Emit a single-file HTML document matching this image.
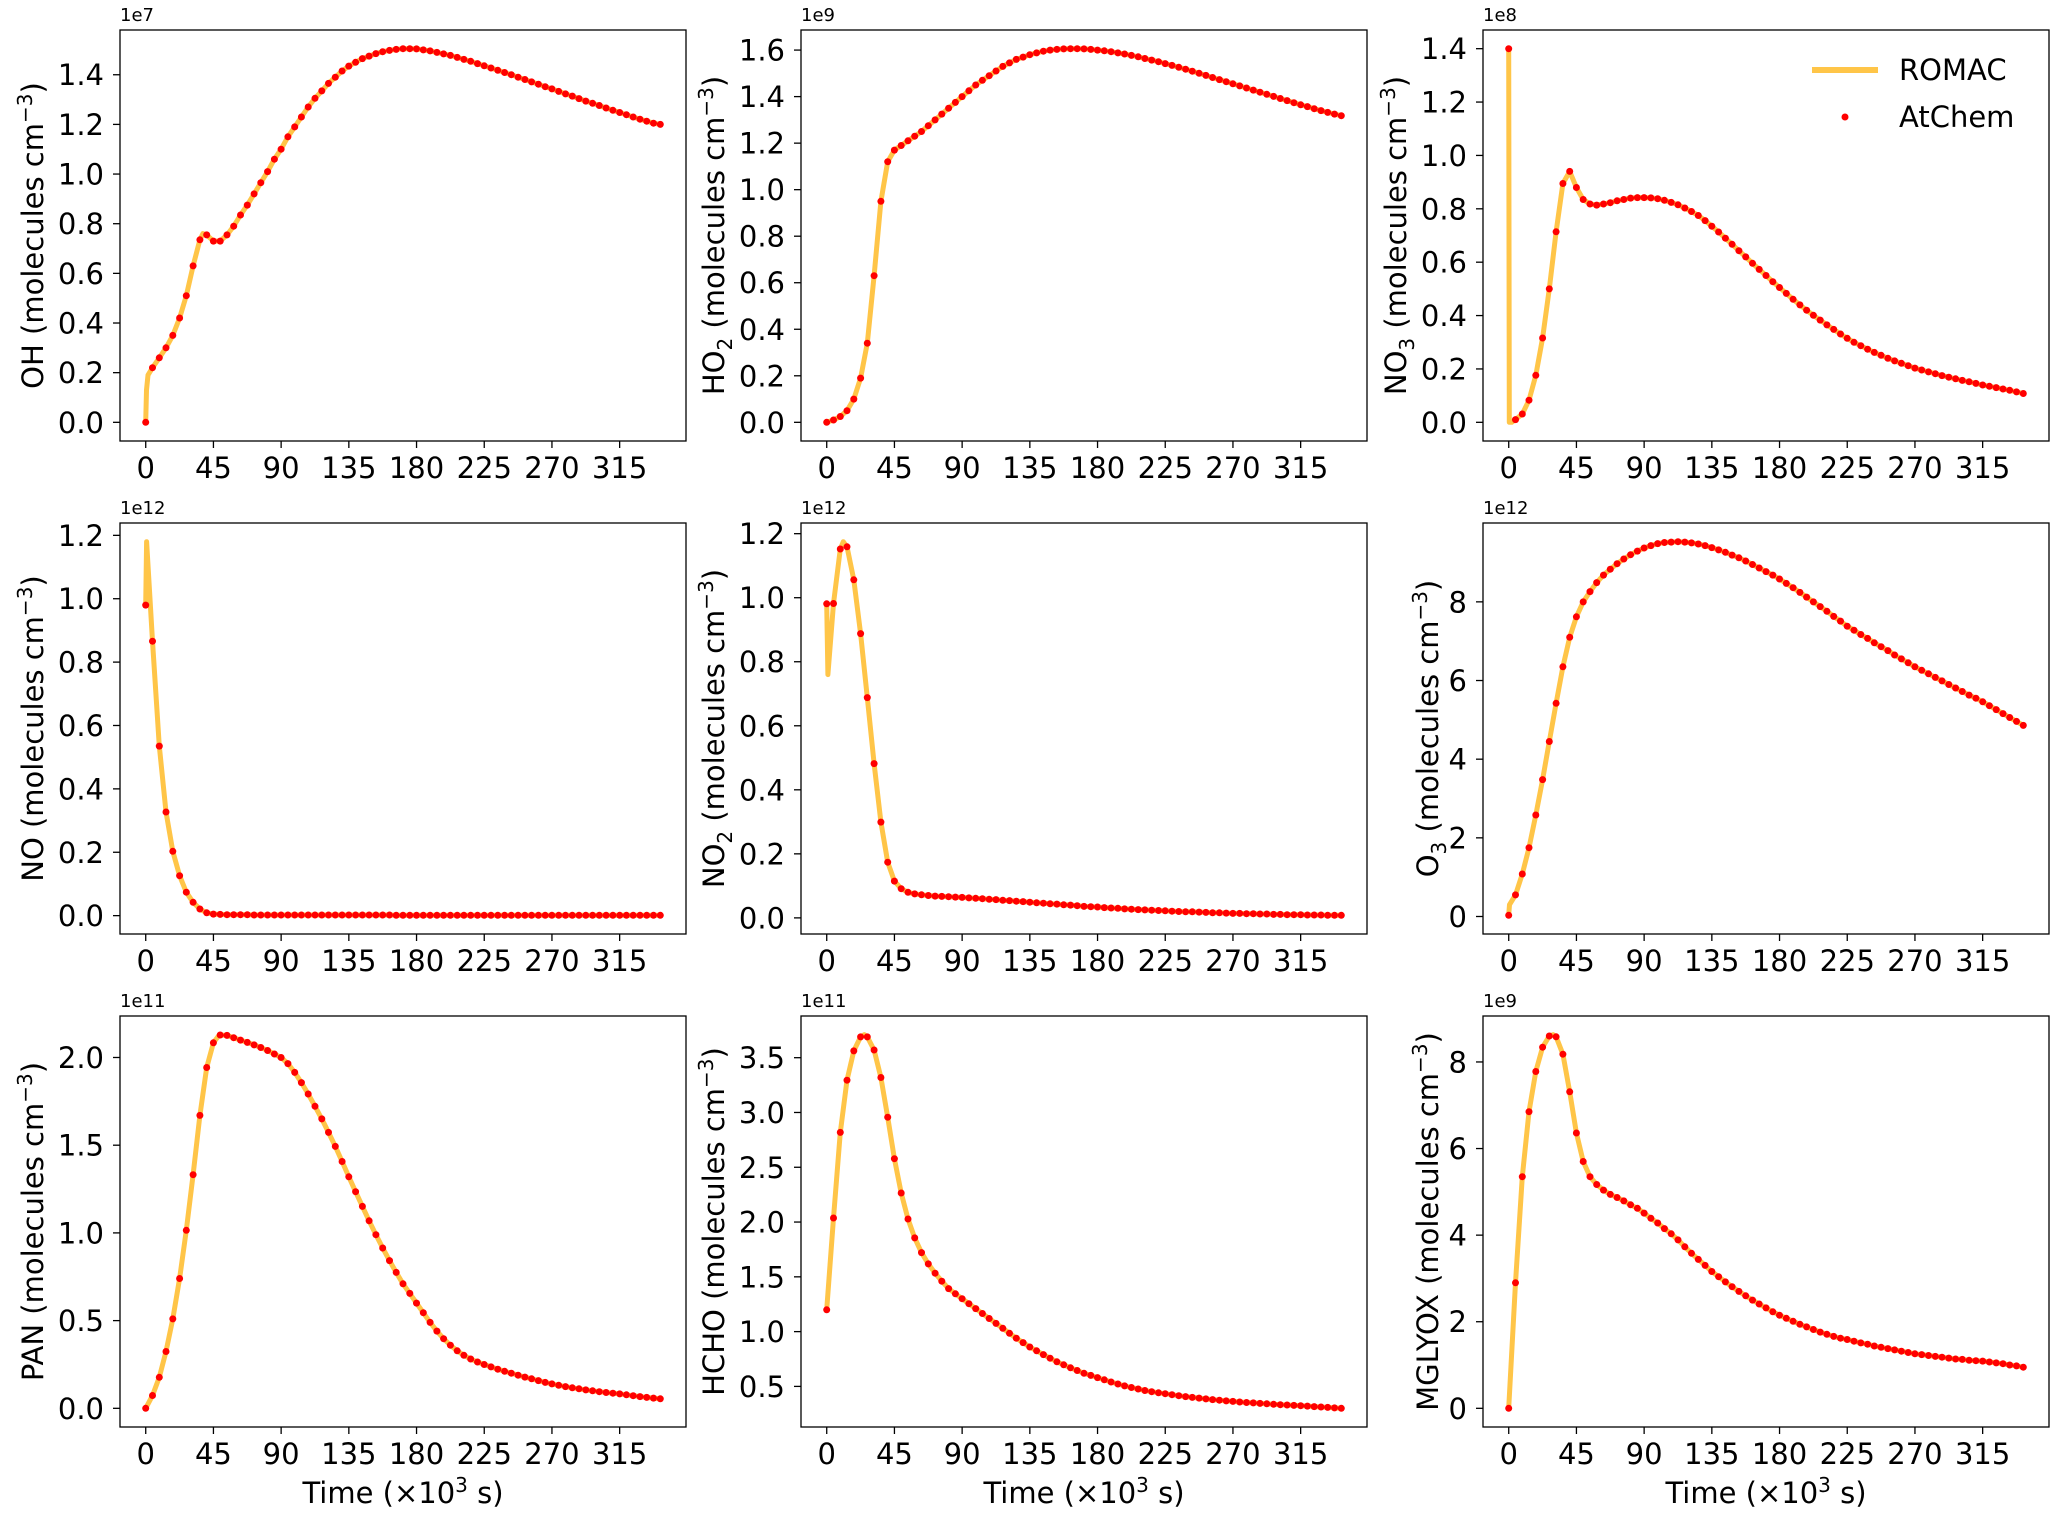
<!DOCTYPE html>
<html><head><meta charset="utf-8"><style>
html,body{margin:0;padding:0;background:#fff;}
svg{display:block;font-family:"DejaVu Sans","Liberation Sans",sans-serif;}
</style></head><body>
<svg id="fig" xmlns="http://www.w3.org/2000/svg" width="2067" height="1519" viewBox="0 0 2067 1519"></svg>
<script>
const timeStep = 4.5;
const pointCount = 77;
const ohValues = [0,0.22,0.26,0.30,0.35,0.42,0.51,0.63,0.735,0.755,0.73,0.73,0.755,0.79,0.835,0.875,0.92,0.965,1.01,1.06,1.10,1.15,1.19,1.23,1.27,1.305,1.335,1.365,1.39,1.415,1.435,1.45,1.465,1.475,1.485,1.493,1.498,1.502,1.505,1.505,1.504,1.50,1.496,1.49,1.484,1.478,1.47,1.462,1.454,1.445,1.436,1.427,1.418,1.409,1.40,1.39,1.381,1.371,1.362,1.352,1.343,1.333,1.323,1.314,1.304,1.294,1.285,1.276,1.266,1.257,1.248,1.239,1.23,1.221,1.213,1.205,1.20];
const ho2Values = [0,0.01,0.025,0.05,0.1,0.19,0.34,0.63,0.95,1.12,1.17,1.19,1.21,1.23,1.25,1.275,1.30,1.325,1.35,1.375,1.40,1.425,1.45,1.47,1.49,1.51,1.53,1.545,1.56,1.57,1.58,1.588,1.595,1.60,1.603,1.605,1.606,1.606,1.605,1.603,1.60,1.597,1.593,1.588,1.583,1.577,1.571,1.564,1.557,1.55,1.542,1.534,1.526,1.518,1.509,1.50,1.491,1.482,1.473,1.464,1.455,1.446,1.437,1.428,1.419,1.41,1.401,1.392,1.383,1.374,1.365,1.357,1.348,1.34,1.332,1.325,1.318];
const no3Values = [1.40,0.01,0.031,0.083,0.176,0.316,0.50,0.714,0.895,0.94,0.88,0.835,0.818,0.814,0.818,0.823,0.83,0.835,0.84,0.842,0.842,0.841,0.838,0.832,0.824,0.815,0.803,0.79,0.775,0.756,0.735,0.713,0.69,0.667,0.643,0.62,0.596,0.573,0.55,0.527,0.505,0.483,0.461,0.44,0.42,0.401,0.383,0.365,0.348,0.331,0.315,0.3,0.287,0.274,0.262,0.251,0.24,0.23,0.221,0.212,0.203,0.196,0.189,0.182,0.175,0.169,0.163,0.157,0.152,0.146,0.14,0.135,0.13,0.125,0.12,0.114,0.108];
const noValues = [0.98,0.866,0.535,0.327,0.203,0.126,0.074,0.042,0.021,0.009,0.005,0.004,0.003,0.003,0.003,0.003,0.002,0.002,0.002,0.002,0.002,0.002,0.002,0.002,0.002,0.002,0.002,0.002,0.002,0.002,0.002,0.002,0.002,0.002,0.002,0.002,0.002,0.001,0.001,0.001,0.001,0.001,0.001,0.001,0.001,0.001,0.001,0.001,0.001,0.001,0.001,0.001,0.001,0.001,0.001,0.001,0.001,0.001,0.001,0.001,0.001,0.001,0.001,0.001,0.001,0.001,0.001,0.001,0.001,0.001,0.001,0.001,0.001,0.001,0.001,0.001,0.001];
const no2Values = [0.981,0.982,1.152,1.159,1.056,0.888,0.688,0.482,0.299,0.174,0.115,0.091,0.08,0.075,0.072,0.07,0.068,0.067,0.066,0.065,0.064,0.0625,0.061,0.06,0.058,0.057,0.055,0.054,0.052,0.051,0.049,0.047,0.046,0.044,0.043,0.041,0.04,0.038,0.036,0.035,0.034,0.032,0.031,0.03,0.028,0.027,0.026,0.025,0.024,0.023,0.022,0.021,0.02,0.019,0.019,0.018,0.017,0.016,0.016,0.015,0.014,0.014,0.013,0.013,0.012,0.012,0.011,0.011,0.01,0.01,0.01,0.009,0.009,0.009,0.008,0.008,0.008];
const o3Values = [0.03,0.55,1.08,1.75,2.58,3.48,4.45,5.42,6.35,7.1,7.62,8.0,8.26,8.49,8.68,8.83,8.97,9.09,9.2,9.29,9.37,9.43,9.48,9.51,9.52,9.53,9.52,9.5,9.47,9.43,9.38,9.32,9.26,9.19,9.12,9.04,8.95,8.86,8.77,8.68,8.58,8.47,8.36,8.24,8.12,8.0,7.88,7.76,7.63,7.51,7.38,7.28,7.17,7.07,6.96,6.86,6.76,6.65,6.55,6.45,6.35,6.26,6.17,6.08,5.99,5.9,5.81,5.72,5.63,5.55,5.46,5.36,5.26,5.16,5.06,4.96,4.86];
const panValues = [0,0.073,0.177,0.324,0.51,0.74,1.015,1.332,1.67,1.943,2.084,2.128,2.126,2.113,2.099,2.086,2.072,2.057,2.04,2.02,2.0,1.965,1.915,1.857,1.792,1.722,1.65,1.573,1.493,1.407,1.32,1.235,1.151,1.069,0.99,0.914,0.842,0.775,0.71,0.655,0.6,0.545,0.49,0.44,0.397,0.36,0.328,0.302,0.281,0.264,0.25,0.236,0.223,0.211,0.2,0.189,0.178,0.168,0.158,0.148,0.139,0.131,0.124,0.117,0.111,0.105,0.1,0.095,0.09,0.086,0.082,0.077,0.072,0.067,0.062,0.058,0.054];
const hchoValues = [1.199,2.037,2.818,3.295,3.562,3.69,3.69,3.57,3.319,2.957,2.578,2.265,2.028,1.855,1.721,1.618,1.533,1.46,1.393,1.345,1.30,1.255,1.21,1.165,1.12,1.075,1.03,0.985,0.94,0.9,0.86,0.825,0.79,0.757,0.725,0.697,0.67,0.645,0.62,0.6,0.58,0.56,0.54,0.522,0.505,0.49,0.476,0.463,0.452,0.442,0.433,0.424,0.415,0.407,0.4,0.393,0.386,0.38,0.374,0.368,0.363,0.358,0.353,0.349,0.345,0.341,0.337,0.333,0.33,0.327,0.324,0.32,0.316,0.312,0.308,0.304,0.30];
const mglyoxValues = [0,2.9,5.35,6.85,7.78,8.34,8.6,8.58,8.18,7.31,6.36,5.7,5.35,5.17,5.04,4.94,4.87,4.79,4.7,4.62,4.51,4.39,4.28,4.15,4.03,3.89,3.73,3.58,3.44,3.3,3.16,3.04,2.92,2.81,2.7,2.6,2.5,2.41,2.32,2.23,2.15,2.08,2.01,1.94,1.88,1.82,1.76,1.71,1.66,1.62,1.59,1.55,1.51,1.48,1.44,1.41,1.38,1.35,1.32,1.29,1.26,1.24,1.22,1.2,1.18,1.16,1.14,1.13,1.11,1.1,1.09,1.07,1.05,1.03,1.0,0.98,0.95];
const ohLineExtraT = [0.5,1.5,38]; const ohLineExtraV = [0.13,0.19,0.76];
const no3LineExtraT = [0.4,2]; const no3LineExtraV = [0.0,0.0];
const noLineExtraT = [0.6]; const noLineExtraV = [1.18];
const no2LineExtraT = [0.8,11]; const no2LineExtraV = [0.76,1.175];
const o3LineExtraT = [0.5]; const o3LineExtraV = [0.3];
const hchoLineExtraT = [25]; const hchoLineExtraV = [3.71];
const mglyoxLineExtraT = [29.5]; const mglyoxLineExtraV = [8.63];
const panLineExtraT = [49]; const panLineExtraV = [2.13];
const xTicks = [0,45,90,135,180,225,270,315];
const ohTicks = [0,0.2,0.4,0.6,0.8,1.0,1.2,1.4];
const ho2Ticks = [0,0.2,0.4,0.6,0.8,1.0,1.2,1.4,1.6];
const no3Ticks = [0,0.2,0.4,0.6,0.8,1.0,1.2,1.4];
const noTicks = [0,0.2,0.4,0.6,0.8,1.0,1.2];
const no2Ticks = [0,0.2,0.4,0.6,0.8,1.0,1.2];
const o3Ticks = [0,2,4,6,8];
const panTicks = [0,0.5,1.0,1.5,2.0];
const hchoTicks = [0.5,1.0,1.5,2.0,2.5,3.0,3.5];
const mglyoxTicks = [0,2,4,6,8];

const NS = "http://www.w3.org/2000/svg";
const svg = document.getElementById('fig');
function mk(tag, attrs, parent){const e=document.createElementNS(NS,tag);for(const k in attrs)e.setAttribute(k,attrs[k]);(parent||svg).appendChild(e);return e;}

const panels = [
 {key:'oh',name:'OH',sub:'',vals:ohValues,ticks:ohTicks,dec:1,exp:'1e7',et:ohLineExtraT,ev:ohLineExtraV,col:0,row:0},
 {key:'ho2',name:'HO',sub:'2',vals:ho2Values,ticks:ho2Ticks,dec:1,exp:'1e9',et:[],ev:[],col:1,row:0},
 {key:'no3',name:'NO',sub:'3',vals:no3Values,ticks:no3Ticks,dec:1,exp:'1e8',et:no3LineExtraT,ev:no3LineExtraV,col:2,row:0},
 {key:'no',name:'NO',sub:'',vals:noValues,ticks:noTicks,dec:1,exp:'1e12',et:noLineExtraT,ev:noLineExtraV,col:0,row:1},
 {key:'no2',name:'NO',sub:'2',vals:no2Values,ticks:no2Ticks,dec:1,exp:'1e12',et:no2LineExtraT,ev:no2LineExtraV,col:1,row:1},
 {key:'o3',name:'O',sub:'3',vals:o3Values,ticks:o3Ticks,dec:0,exp:'1e12',et:o3LineExtraT,ev:o3LineExtraV,col:2,row:1},
 {key:'pan',name:'PAN',sub:'',vals:panValues,ticks:panTicks,dec:1,exp:'1e11',et:panLineExtraT,ev:panLineExtraV,col:0,row:2},
 {key:'hcho',name:'HCHO',sub:'',vals:hchoValues,ticks:hchoTicks,dec:1,exp:'1e11',et:hchoLineExtraT,ev:hchoLineExtraV,col:1,row:2},
 {key:'mglyox',name:'MGLYOX',sub:'',vals:mglyoxValues,ticks:mglyoxTicks,dec:0,exp:'1e9',et:mglyoxLineExtraT,ev:mglyoxLineExtraV,col:2,row:2}
];
const colLeft=[120,801,1483], rowTop=[30,523,1016], W=566, H=411;
const times=[]; for(let i=0;i<pointCount;i++) times.push(i*timeStep);

panels.forEach(p=>{
 const L=colLeft[p.col], T=rowTop[p.row];
 const g=mk('g',{});
 
 
 let pts=times.map((t,i)=>[t,p.vals[i]]);
 p.et.forEach((t,i)=>pts.push([t,p.ev[i]]));
 pts.sort((a,b)=>a[0]-b[0]);
 const xmin0=0,xmax0=times[times.length-1];
 const allV=pts.map(d=>d[1]);
 const ymin0=Math.min(...allV), ymax0=Math.max(...allV);
 const xm=(xmax0-xmin0)*0.05, ym=(ymax0-ymin0)*0.05;
 const xs=v=>L+(v-(xmin0-xm))/((xmax0+xm)-(xmin0-xm))*W;
 const ys=v=>T+H-(v-(ymin0-ym))/((ymax0+ym)-(ymin0-ym))*H;
 const clip=mk('clipPath',{id:'clip-'+p.key},g);
 mk('rect',{x:L,y:T,width:W,height:H},clip);
 const line=mk('path',{d:pts.map((d,i)=>(i?'L':'M')+xs(d[0]).toFixed(1)+','+ys(d[1]).toFixed(1)).join(''),fill:'none',stroke:'#ffc548','stroke-width':5,'stroke-linejoin':'round','clip-path':'url(#clip-'+p.key+')'},g);
 
 
 times.forEach((t,i)=>{
  const c=mk('circle',{cx:xs(t).toFixed(1),cy:ys(p.vals[i]).toFixed(1),r:3.5,fill:'#ff0000'},g);
  
  
 });
 const frame=mk('rect',{x:L,y:T,width:W,height:H,fill:'none',stroke:'#000','stroke-width':1.3},g);
 
 
 xTicks.forEach(v=>{
  const x=xs(v);
  mk('line',{x1:x,x2:x,y1:T+H,y2:T+H+7,stroke:'#000','stroke-width':1.3},g);
  const tx=mk('text',{x:x,y:T+H+37,'text-anchor':'middle','font-size':29,fill:'#000'},g);
  tx.textContent=v;
  
  
 });
 p.ticks.forEach(v=>{
  const y=ys(v);
  mk('line',{x1:L-7,x2:L,y1:y,y2:y,stroke:'#000','stroke-width':1.3},g);
  const ty=mk('text',{x:L-16,y:y+10.5,'text-anchor':'end','font-size':29,fill:'#000'},g);
  ty.textContent=v.toFixed(p.dec);
  
  
 });
 const off=mk('text',{x:L,y:T-9,'font-size':18,fill:'#000'},g);
 off.textContent=p.exp;
 
 
 const yoff = p.dec===0 ? 45 : 77;
 const yl=mk('text',{transform:'translate('+(L-yoff)+','+(T+H/2)+') rotate(-90)','text-anchor':'middle','font-size':29,fill:'#000'},g);
 
 
 let html=p.name;
 if(p.sub) html+='<tspan dy="8" font-size="20">'+p.sub+'</tspan><tspan dy="-8">'+' (molecules cm'+'</tspan>';
 else html+=' (molecules cm';
 html+='<tspan dy="-11" font-size="20">\u22123</tspan><tspan dy="11">)</tspan>';
 yl.innerHTML=html;
 if(p.row===2){
  const xl=mk('text',{x:L+W/2,y:T+H+76,'text-anchor':'middle','font-size':29,fill:'#000'},g);
  xl.innerHTML='Time (\u00d710<tspan dy="-11" font-size="20">3</tspan><tspan dy="11"> s)</tspan>';
  
  
 }
});
const lg=mk('g',{});


const l1=mk('line',{x1:1812,x2:1878,y1:70,y2:70,stroke:'#ffc548','stroke-width':6},lg);


const t1=mk('text',{x:1899,y:80,'font-size':29,fill:'#000'},lg); t1.textContent='ROMAC';


const c1=mk('circle',{cx:1845,cy:117,r:3.5,fill:'#ff0000'},lg);


const t2=mk('text',{x:1899,y:127,'font-size':29,fill:'#000'},lg); t2.textContent='AtChem';


</script>
</body></html>
